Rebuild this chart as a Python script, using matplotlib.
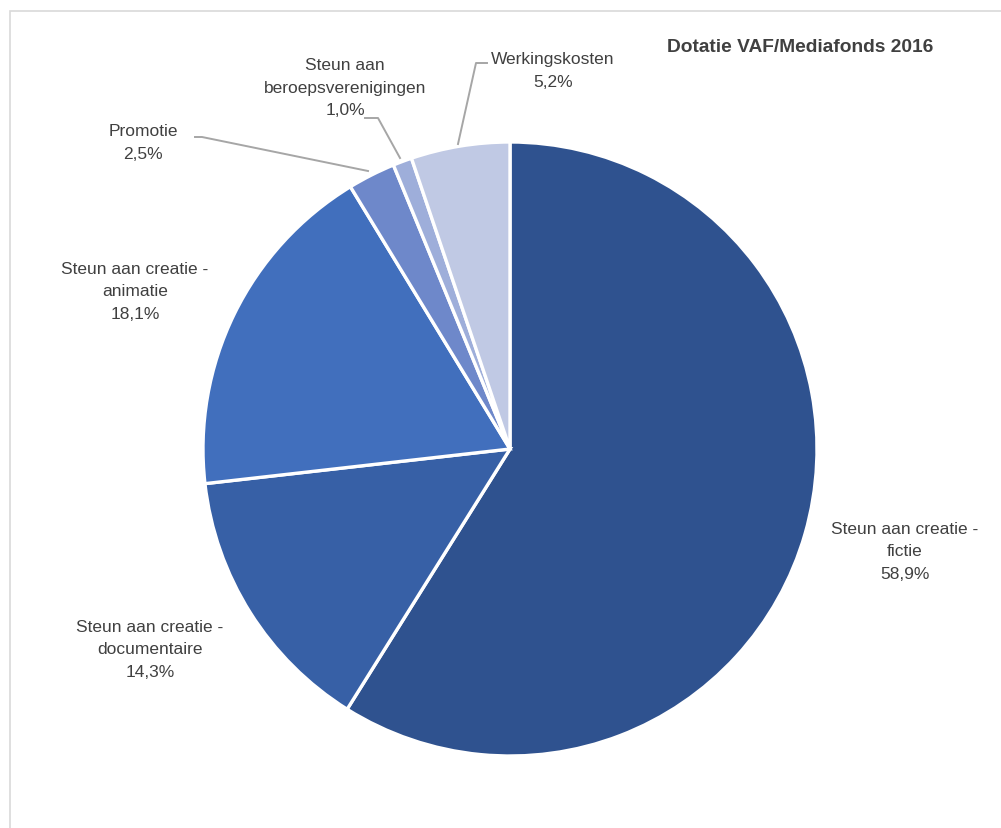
import matplotlib

matplotlib.use("Agg")
import matplotlib.pyplot as plt  # noqa: E402
from matplotlib.patches import Rectangle  # noqa: E402

W, H = 1001, 829

# data, clockwise from 12 o'clock
labels = ["Steun aan creatie -\nfictie", "Steun aan creatie -\ndocumentaire",
          "Steun aan creatie -\nanimatie", "Promotie",
          "Steun aan\nberoepsverenigingen", "Werkingskosten"]
values = [58.9, 14.3, 18.1, 2.5, 1.0, 5.2]
colors = ["#2F528F", "#3760A6", "#416FBD", "#6E88CA", "#9EAEDA", "#C0C9E4"]
title = "Dotatie VAF/Mediafonds 2016"

# label block centres in pixel coords
label_pos = [(905, 552), (150, 650), (135, 292), (143, 143), (345, 88), (553, 71)]
# leader lines (pixel coords) for the small slices
leaders = {3: [(195, 138), (202, 138), (368, 172)],
           4: [(365, 119), (378, 119), (400, 159)],
           5: [(487, 64), (476, 64), (458, 145)]}

plt.rcParams["font.family"] = ["Liberation Sans Narrow", "Liberation Sans", "DejaVu Sans"]
TXT = "#404040"

fig = plt.figure(figsize=(W / 100, H / 100), dpi=100)
ax = fig.add_axes([0, 0, 1, 1])


def Y(y):
    return H - y


# chart frame (cut off at right and bottom)
ax.add_patch(Rectangle((10, -5), W + 10, Y(12) + 5, fill=False,
                       edgecolor="#D9D9D9", lw=1.2))

ax.pie(values, colors=colors, startangle=90, counterclock=False,
       center=(510, Y(450)), radius=307, frame=True,
       wedgeprops=dict(edgecolor="white", linewidth=2.4))
ax.set_xlim(0, W)
ax.set_ylim(0, H)
ax.set_aspect("equal")
ax.axis("off")

for i, (lab, v) in enumerate(zip(labels, values)):
    x, y = label_pos[i]
    txt = f"{lab}\n{v:.1f}%".replace(".", ",")
    ax.text(x, Y(y), txt, ha="center", va="center", fontsize=12.5,
            color=TXT, linespacing=1.62)

for i, pts in leaders.items():
    ax.plot([p[0] for p in pts], [Y(p[1]) for p in pts], color="#A6A6A6", lw=1.4)

ax.text(800, Y(47), title, ha="center", va="center", fontsize=13.8,
        fontweight="bold", color=TXT)

fig.savefig("out.png", dpi=100, facecolor="white")
